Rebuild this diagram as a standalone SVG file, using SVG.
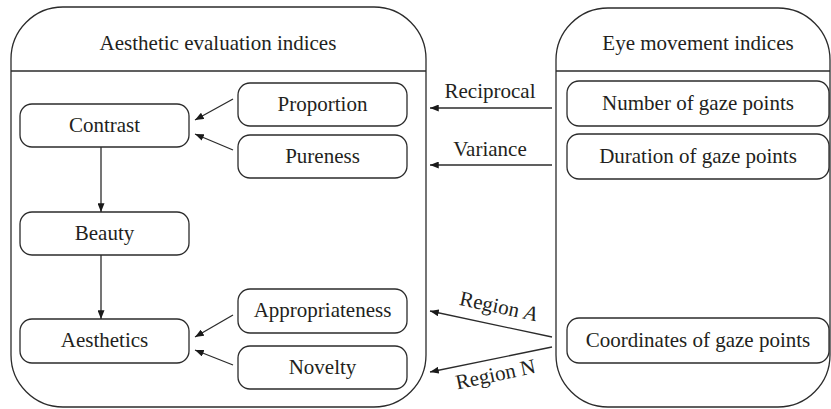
<svg xmlns="http://www.w3.org/2000/svg" width="831" height="409" viewBox="0 0 831 409">
<style>
.c{fill:none;stroke:#2b2b2b;stroke-width:1.3}
.n{fill:#fff;stroke:#2b2b2b;stroke-width:1.3}
text{font-family:"Liberation Serif","Times New Roman",serif;font-size:21px;fill:#231f20;text-anchor:middle}
.e{stroke:#2b2b2b;stroke-width:1.3;fill:none;marker-end:url(#ah)}
</style>
<defs>
<marker id="ah" viewBox="0 0 10 8" refX="10" refY="4" markerWidth="9" markerHeight="7" markerUnits="userSpaceOnUse" orient="auto">
<path d="M0,0 L10,4 L0,8 Z" fill="#1a1a1a"/>
</marker>
</defs>
<rect width="831" height="409" fill="#fff"/>
<g id="container-aesthetic">
<rect class="c" x="11" y="7" width="415" height="400" rx="52" ry="52"/>
<line class="c" x1="11" y1="71" x2="426" y2="71"/>
<text x="218" y="50">Aesthetic evaluation indices</text>
</g>
<g id="container-eye">
<rect class="c" x="556" y="8" width="274" height="399" rx="52" ry="52"/>
<line class="c" x1="556" y1="71" x2="830" y2="71"/>
<text x="698" y="50">Eye movement indices</text>
</g>
<g id="contrast"><rect class="n" x="20" y="104" width="169" height="43" rx="12"/><text x="104.5" y="132">Contrast</text></g>
<g id="beauty"><rect class="n" x="20" y="212" width="169" height="43" rx="12"/><text x="104.5" y="240">Beauty</text></g>
<g id="aesthetics"><rect class="n" x="20" y="319" width="169" height="44" rx="12"/><text x="104.5" y="347">Aesthetics</text></g>
<g id="proportion"><rect class="n" x="238" y="83" width="169" height="43" rx="12"/><text x="322.5" y="111">Proportion</text></g>
<g id="pureness"><rect class="n" x="238" y="135" width="169" height="43" rx="12"/><text x="322.5" y="163">Pureness</text></g>
<g id="appropriateness"><rect class="n" x="238" y="289" width="169" height="44" rx="12"/><text x="322.5" y="317">Appropriateness</text></g>
<g id="novelty"><rect class="n" x="238" y="346" width="169" height="43" rx="12"/><text x="322.5" y="374">Novelty</text></g>
<g id="number"><rect class="n" x="567" y="81" width="262" height="45" rx="12"/><text x="698" y="110">Number of gaze points</text></g>
<g id="duration"><rect class="n" x="567" y="134" width="262" height="45" rx="12"/><text x="698" y="163">Duration of gaze points</text></g>
<g id="coordinates"><rect class="n" x="567" y="318" width="262" height="45" rx="12"/><text x="698" y="347">Coordinates of gaze points</text></g>
<g id="connectors">
<line class="e" x1="233" y1="99" x2="195" y2="120"/>
<line class="e" x1="233" y1="150" x2="195" y2="134"/>
<line class="e" x1="233" y1="315" x2="195" y2="337"/>
<line class="e" x1="233" y1="365" x2="195" y2="350"/>
<line class="e" x1="101" y1="147" x2="101" y2="212"/>
<line class="e" x1="101" y1="255" x2="101" y2="319"/>
<line class="e" x1="552" y1="108" x2="430" y2="108"/>
<line class="e" x1="552" y1="165" x2="430" y2="165"/>
<line class="e" x1="552" y1="337" x2="430" y2="311"/>
<line class="e" x1="552" y1="347" x2="430" y2="372"/>
<text x="490" y="98">Reciprocal</text>
<text x="490" y="156">Variance</text>
<text transform="translate(497,313) rotate(12)">Region <tspan font-style="italic">A</tspan></text>
<text transform="translate(497,381) rotate(-12)">Region N</text>
</g>
</svg>
